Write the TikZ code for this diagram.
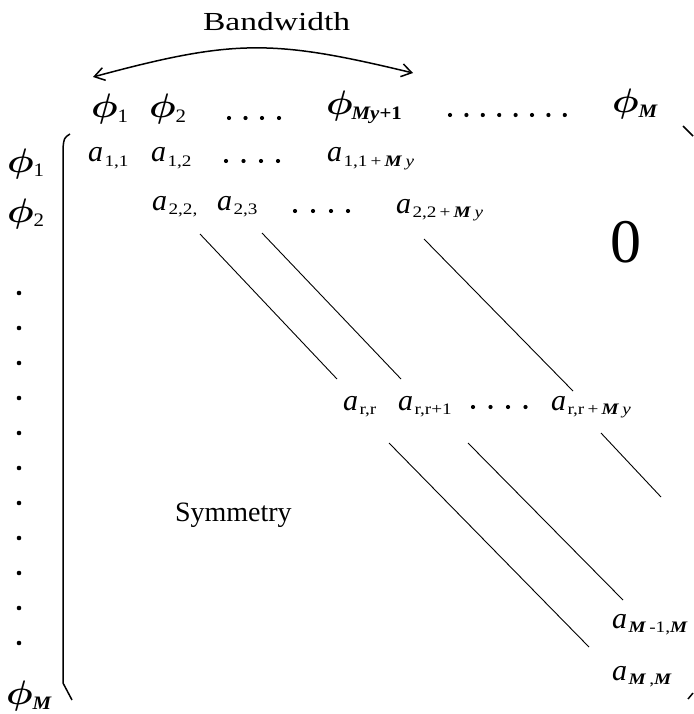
\documentclass[tikz,border=0pt]{standalone}
\usepackage{fix-cm}
\usepackage{amsmath}
\usepackage{graphicx}
\usepackage{fontspec}
\setmainfont{Liberation Serif}
\usetikzlibrary{arrows.meta,calc}
\newcommand\subs[1]{{\fontsize{16}{16}\selectfont\scalebox{1.2}[1]{#1}}}
\newcommand\psubs[1]{{\fontsize{19}{19}\selectfont\scalebox{1.1}[1]{#1}}}
\newcommand\aent[1]{\textit{a}\kern1.5pt\raisebox{-4.5pt}{\subs{#1}}}
\newcommand\phient[2][0pt]{\scalebox{1.1}[1]{$\boldsymbol{\phi}$}\kern#1\raisebox{-5pt}{\psubs{#2}}}
\newcommand\bM{\textbf{\textit{M}}}
\tikzset{
  ent/.style={anchor=base west, inner sep=0pt, outer sep=0pt, font=\fontsize{30}{30}\selectfont},
  phin/.style={anchor=base west, inner sep=0pt, outer sep=0pt, font=\fontsize{34}{34}\selectfont},
  lbl/.style={anchor=base west, inner sep=0pt, outer sep=0pt},
  diag/.style={line width=0.9pt},
  brk/.style={line width=1.5pt},
  bw/.style={line width=1.5pt, {Straight Barb[length=10pt,width=13pt,line width=1.5pt]}-{Straight Barb[length=10pt,width=13pt,line width=1.5pt]}},
  dotf/.style={fill=black}
}
\begin{document}
\begin{tikzpicture}[x=1pt,y=-1pt]
\useasboundingbox (0,0) rectangle (693,714);
% title and arrow
\node[lbl, font=\fontsize{26}{26}\selectfont] (bwt) at (203,31) {\scalebox{1.29}[1]{Bandwidth}};
\coordinate (bwL) at (93,77);
\coordinate (bwR) at (413,73);
\draw[bw] (bwL) .. controls (234,39) and (272,39) .. (bwR);
% header phis
\node[phin] (h1) at (91,118) {\phient{1}};
\node[phin] (h2) at (149,118) {\phient{2}};
\node[phin] (h3) at (326,115) {\phient[-1pt]{\textbf{\textit{My}+1}}};
\node[phin] (h4) at (612,113) {\phient{\bM}};
\foreach \x in {229,245.5,262,279} \fill[dotf] (\x,118) circle (2.1);
\foreach \i in {0,...,7} \fill[dotf] (450+16.4*\i,115) circle (2.1);
% left phis
\node[phin] (v1) at (7,172) {\phient{1}};
\node[phin] (v2) at (7,222) {\phient{2}};
\node[phin] (v3) at (6,704) {\phient{\bM}};
\foreach \i in {0,...,10} \fill[dotf] (19,293+35*\i) circle (2.3);
% brackets
\draw[brk] (70,134) .. controls (64,138) .. (63,148) -- (63,683) -- (72,700);
\draw[brk] (683,126) -- (693,136);
\draw[brk] (688,699) -- (693,693);
% entries
\node[ent] (a11) at (88,162) {\aent{1,1}};
\node[ent] (a12) at (151,162) {\aent{1,2}};
\node[ent] (a1M) at (327,162) {\aent{1,1\,+\,\bM\,\textit{y}}};
\foreach \x in {226,243.5,261,278} \fill[dotf] (\x,161) circle (2.1);
\node[ent] (a22) at (152,210) {\aent{2,2,}};
\node[ent] (a23) at (217,210) {\aent{2,3}};
\node[ent] (a2M) at (396,213) {\aent{2,2\,+\,\bM\,\textit{y}}};
\foreach \x in {295,313,331,348} \fill[dotf] (\x,211) circle (2.1);
\node[lbl, font=\fontsize{62}{62}\selectfont] (zero) at (610.5,262) {0};
\node[ent] (arr) at (343,410) {\aent{r,r}};
\node[ent] (arr1) at (398,410) {\aent{r,r+1}};
\node[ent] (arrM) at (551,410) {\aent{r,r\,+\,\bM\,\textit{y}}};
\foreach \x in {473,490.5,508,525.5} \fill[dotf] (\x,407) circle (2.1);
\node[ent] (aM1) at (612,628) {\aent{\bM\,-1,\bM}};
\node[ent] (aMM) at (612,680) {\aent{\bM\,,\bM}};
\node[lbl, font=\fontsize{28}{28}\selectfont] (sym) at (175,521) {Symmetry};
% diagonals
\draw[diag] ($(a22.base west)+(48,24)$) -- ($(arr.base west)+(-6,-31)$);
\draw[diag] ($(a23.base west)+(45,23)$) -- ($(arr1.base west)+(3,-31)$);
\draw[diag] ($(a2M.base west)+(28,26)$) -- ($(arrM.base west)+(22,-19)$);
\draw[diag] ($(arr.base west)+(46,33)$) -- ($(aMM.base west)+(-23,-33)$);
\draw[diag] ($(arr1.base west)+(70,33)$) -- ($(aM1.base west)+(11,-28)$);
\coordinate (l6end) at (661,497);
\draw[diag] ($(arrM.base west)+(50,23)$) -- (l6end);
\end{tikzpicture}
\end{document}
